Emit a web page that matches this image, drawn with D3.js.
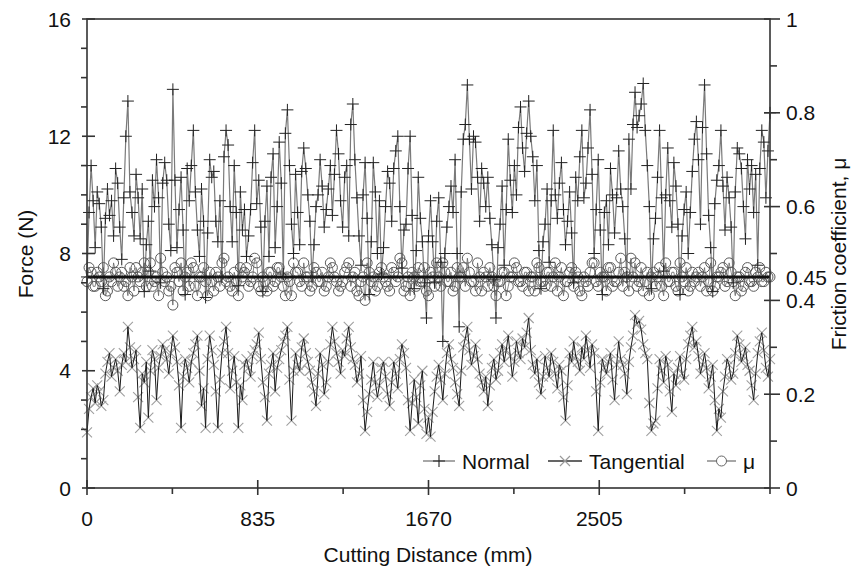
<!DOCTYPE html>
<html><head><meta charset="utf-8">
<script src="https://cdn.jsdelivr.net/npm/d3@7"></script>
<style>body{margin:0;background:#fff}svg{display:block}text{font-family:"Liberation Sans",Arial,sans-serif;fill:#111}</style>
</head><body><svg id="c" width="861" height="570"></svg>
<script>
// ---- data ----
const sampleStep = 10; // mm between samples
const normal = [7.2,9.4,11.0,9.8,8.2,10.1,9.7,8.9,6.8,9.2,
10.2,9.3,9.8,8.6,10.9,10.4,8.9,7.8,9.9,12.0,
13.2,10.1,9.4,8.6,10.7,9.9,8.5,10.2,6.7,8.3,
9.1,7.4,10.5,9.6,11.2,9.9,7.0,10.4,11.1,10.5,
9.0,8.1,13.6,10.5,8.2,9.5,10.6,8.8,6.6,10.9,
9.8,11.0,12.2,10.1,8.8,7.9,10.2,9.1,6.5,8.7,
11.2,10.6,10.8,9.1,8.4,9.8,7.2,11.3,12.2,11.7,
9.6,8.4,11.0,9.4,6.9,10.1,8.8,9.5,7.9,8.6,
9.5,11.1,12.2,9.7,10.5,8.9,6.7,9.1,10.3,7.9,
10.6,11.4,8.2,9.6,11.8,10.4,7.3,12.1,12.9,11.0,
9.0,8.0,10.7,9.4,8.3,10.8,11.6,10.9,10.0,9.1,
7.2,8.3,9.6,10.0,11.2,10.3,8.9,9.5,10.2,11.0,
9.3,10.7,12.2,11.4,9.8,8.9,10.6,11.0,8.6,12.4,
13.1,11.2,9.9,8.6,7.6,10.0,11.1,9.2,6.6,8.4,
11.1,10.1,8.0,9.8,7.3,8.2,9.6,10.8,10.4,9.1,
10.9,11.5,12.0,9.6,7.5,8.8,9.0,10.9,12.0,9.3,
6.8,8.1,10.6,9.2,8.4,7.0,5.8,8.6,9.8,8.4,
7.0,9.1,9.9,7.7,5.0,8.0,8.9,9.6,10.3,9.4,
11.2,8.0,5.5,10.1,11.9,12.4,13.75,11.9,10.2,12.0,
11.8,10.6,9.1,10.9,10.4,9.6,10.6,9.2,8.3,7.1,
5.8,8.2,9.0,10.3,7.6,9.5,11.9,10.5,9.4,11.0,
10.0,12.3,13.0,11.6,10.8,12.1,13.2,12.0,11.3,9.8,
11.0,8.1,6.8,8.4,9.0,10.2,7.7,9.8,12.2,10.0,
9.2,10.4,11.1,9.5,8.3,9.1,10.1,8.7,7.0,10.6,
9.8,11.3,12.2,9.9,10.4,11.6,12.9,10.7,8.0,9.5,
11.2,8.8,6.6,9.4,9.8,8.3,10.9,10.0,8.7,9.9,
11.5,10.2,9.6,8.5,7.2,11.9,10.2,12.4,13.5,12.3,
12.7,13.1,13.8,12.2,11.0,9.6,6.8,8.5,9.2,10.6,
12.2,9.9,7.4,10.0,11.6,9.8,8.9,11.1,10.3,9.0,
6.6,8.6,9.5,10.1,8.0,9.4,10.8,11.9,12.5,11.2,
9.0,12.3,13.75,11.4,9.3,8.2,6.7,9.7,10.5,11.0,
12.2,10.3,8.8,10.6,9.9,8.9,7.0,10.1,11.6,11.4,
10.9,9.6,8.5,11.2,10.2,11.0,9.4,10.7,7.6,10.9,
12.2,11.8,9.9,11.5,12.8];
const tangential = [1.9,2.7,3.1,3.4,2.9,3.5,3.3,2.8,3.0,3.9,
4.3,4.6,3.8,4.1,4.4,4.0,3.3,4.2,4.6,4.3,
5.5,4.8,4.1,4.4,4.7,3.1,2.05,3.9,3.6,4.3,
2.4,4.0,4.7,4.4,3.0,4.1,4.5,4.9,4.7,4.4,
3.9,4.6,5.2,4.8,4.3,3.5,2.05,3.8,4.4,4.1,
3.6,4.3,4.6,4.9,5.2,4.0,2.8,3.4,2.05,4.4,
5.2,4.7,4.2,3.3,2.05,3.7,4.6,5.0,5.5,4.6,
3.4,4.0,4.5,3.6,2.05,3.5,3.0,4.2,4.4,4.1,
3.8,4.5,4.7,4.9,5.3,4.4,3.6,3.1,2.3,3.9,
4.2,4.6,3.3,4.1,4.4,4.7,5.0,5.2,5.5,3.7,
2.3,4.0,4.6,4.2,4.0,4.8,5.1,4.6,4.3,4.0,
3.6,3.3,2.8,3.9,4.6,4.2,3.2,3.6,4.3,4.9,
5.5,5.0,4.6,4.3,3.9,4.7,4.5,5.1,5.5,4.8,
4.4,4.2,3.6,3.9,4.5,3.0,1.95,2.6,3.2,3.7,
4.3,3.6,3.1,3.5,4.1,4.3,3.8,3.2,2.8,3.6,
4.3,3.9,3.4,4.4,4.9,4.6,4.1,3.0,1.95,2.9,
3.7,3.1,2.2,3.5,4.0,2.7,1.85,2.4,1.75,2.6,
3.3,3.8,4.2,3.7,3.0,3.9,4.6,4.9,4.4,4.1,
3.6,3.2,2.8,4.0,4.8,5.1,5.5,4.7,4.2,4.5,
4.9,4.4,3.9,3.6,3.3,3.8,2.8,3.5,4.1,4.4,
3.7,4.0,4.6,4.9,4.3,4.7,5.2,4.5,3.8,4.3,
5.0,4.6,4.4,5.1,4.8,5.3,5.8,4.7,4.2,3.9,
4.4,3.6,3.2,3.8,4.5,4.1,3.8,4.6,4.3,3.9,
3.4,4.2,4.0,3.1,2.3,3.5,4.6,4.3,5.0,4.5,
4.3,4.0,4.8,4.4,5.2,4.7,4.1,4.9,4.6,3.3,
1.95,3.6,4.4,4.1,3.9,4.3,4.6,3.7,3.0,4.2,
5.0,4.4,4.2,3.9,3.2,4.3,4.8,5.2,5.9,5.6,
5.7,5.4,4.9,4.6,4.4,2.9,1.95,2.2,2.3,3.4,
4.4,4.0,3.6,4.5,4.2,3.3,2.6,3.9,3.5,4.1,
4.5,3.9,3.7,4.4,4.9,5.2,5.5,4.8,5.0,4.5,
3.9,4.2,4.6,4.1,3.4,3.8,4.2,3.0,1.95,2.7,
2.4,3.3,3.8,4.4,4.2,3.7,3.9,4.6,5.2,4.9,
4.3,4.5,4.8,4.2,4.0,3.5,3.0,3.9,4.6,5.0,
5.3,4.7,4.1,3.8,4.4];
const mu = [0.44,0.47,0.46,0.43,0.43,0.46,0.45,0.44,0.47,0.41,
0.42,0.45,0.44,0.48,0.46,0.43,0.45,0.46,0.43,0.44,
0.41,0.47,0.45,0.42,0.47,0.45,0.44,0.46,0.48,0.43,
0.46,0.48,0.43,0.44,0.45,0.41,0.49,0.46,0.44,0.45,
0.42,0.43,0.39,0.47,0.46,0.44,0.48,0.42,0.45,0.46,
0.43,0.48,0.47,0.43,0.41,0.45,0.45,0.47,0.44,0.41,
0.46,0.44,0.42,0.46,0.45,0.43,0.48,0.49,0.44,0.45,
0.43,0.42,0.46,0.44,0.41,0.47,0.45,0.46,0.47,0.43,
0.44,0.45,0.49,0.48,0.43,0.42,0.45,0.44,0.42,0.46,
0.46,0.43,0.44,0.47,0.47,0.45,0.43,0.41,0.45,0.44,
0.41,0.48,0.46,0.46,0.44,0.43,0.48,0.45,0.45,0.42,
0.43,0.47,0.46,0.44,0.44,0.46,0.42,0.43,0.45,0.48,
0.47,0.45,0.44,0.42,0.43,0.44,0.46,0.47,0.48,0.43,
0.45,0.46,0.42,0.41,0.44,0.45,0.40,0.48,0.46,0.44,
0.45,0.42,0.43,0.46,0.47,0.45,0.44,0.43,0.42,0.47,
0.46,0.44,0.45,0.49,0.48,0.42,0.43,0.45,0.41,0.46,
0.45,0.43,0.47,0.44,0.44,0.47,0.42,0.41,0.46,0.45,
0.43,0.48,0.45,0.43,0.48,0.46,0.44,0.44,0.46,0.42,
0.43,0.47,0.45,0.45,0.47,0.43,0.49,0.46,0.44,0.44,
0.42,0.48,0.45,0.42,0.46,0.45,0.43,0.47,0.45,0.43,
0.41,0.44,0.44,0.46,0.46,0.41,0.43,0.45,0.45,0.48,
0.47,0.44,0.44,0.43,0.46,0.46,0.42,0.45,0.45,0.42,
0.48,0.47,0.44,0.44,0.43,0.46,0.46,0.43,0.45,0.48,
0.42,0.45,0.47,0.41,0.44,0.44,0.46,0.47,0.43,0.46,
0.45,0.42,0.41,0.45,0.44,0.43,0.46,0.48,0.48,0.44,
0.43,0.46,0.45,0.45,0.42,0.47,0.47,0.43,0.44,0.44,
0.46,0.49,0.43,0.46,0.45,0.42,0.49,0.45,0.48,0.43,
0.44,0.47,0.42,0.44,0.46,0.41,0.45,0.46,0.43,0.45,
0.47,0.43,0.41,0.48,0.44,0.44,0.46,0.46,0.43,0.42,
0.48,0.45,0.44,0.47,0.42,0.43,0.46,0.44,0.45,0.46,
0.43,0.45,0.47,0.42,0.44,0.48,0.42,0.43,0.45,0.45,
0.46,0.47,0.43,0.44,0.48,0.46,0.44,0.41,0.45,0.45,
0.42,0.43,0.46,0.47,0.44,0.44,0.43,0.46,0.45,0.47,
0.44,0.44,0.46,0.45,0.45];
const muMean = 0.45;
const xTicks = [0, 835, 1670, 2505];
const xMinor = [417.5, 1252.5, 2087.5, 2922.5, 3340];
const yLeftTicks = [0, 4, 8, 12, 16];
const yRightTicks = [0, 0.2, 0.4, 0.45, 0.6, 0.8, 1];
const legendItems = ["Normal", "Tangential", "\u03bc"];

// ---- layout ----
const svg = d3.select("#c");
const L = 87, R = 770, T = 19, B = 488;
const x = d3.scaleLinear().domain([0, 3340]).range([L, R]);
const yF = d3.scaleLinear().domain([0, 16]).range([B, T]);
const yM = d3.scaleLinear().domain([0, 1]).range([B, T]);
const dist = i => i * sampleStep;

const g = svg.append("g");
// Normal
g.append("path").datum(normal)
  .attr("d", d3.line().x((d,i)=>x(dist(i))).y(d=>yF(d)))
  .attr("fill","none").attr("stroke","#7a7a7a").attr("stroke-width",1.2);
// mu
g.append("path").datum(mu)
  .attr("d", d3.line().x((d,i)=>x(dist(i))).y(d=>yM(d)))
  .attr("fill","none").attr("stroke","#555").attr("stroke-width",0.7);
g.selectAll("circle.mu").data(mu).join("circle").attr("class","mu")
  .attr("cx",(d,i)=>x(dist(i))).attr("cy",d=>yM(d)).attr("r",5)
  .attr("fill","none").attr("stroke","#5a5a5a").attr("stroke-width",1);
g.append("line").attr("x1",L).attr("x2",R).attr("y1",yM(muMean)).attr("y2",yM(muMean))
  .attr("stroke","#111").attr("stroke-width",3);
// Tangential
const xm = 5;
g.selectAll("path.tx").data(tangential).join("path").attr("class","tx")
  .attr("d",(d,i)=>{const cx=x(dist(i)),cy=yF(d);return `M${cx-xm},${cy-xm}L${cx+xm},${cy+xm}M${cx-xm},${cy+xm}L${cx+xm},${cy-xm}`;})
  .attr("stroke","#a0a0a0").attr("stroke-width",1.1);
g.append("path").datum(tangential)
  .attr("d", d3.line().x((d,i)=>x(dist(i))).y(d=>yF(d)))
  .attr("fill","none").attr("stroke","#1a1a1a").attr("stroke-width",1.0);
const pm = 6;
g.selectAll("path.np").data(normal).join("path").attr("class","np")
  .attr("d",(d,i)=>{const cx=x(dist(i)),cy=yF(d);return `M${cx-pm},${cy}L${cx+pm},${cy}M${cx},${cy-pm}L${cx},${cy+pm}`;})
  .attr("stroke","#222").attr("stroke-width",1);

// ---- axes ----
const ax = svg.append("g").attr("stroke","#333").attr("stroke-width",1.6);
ax.append("rect").attr("x",L).attr("y",T).attr("width",R-L).attr("height",B-T).attr("fill","none");
d3.range(0,17).forEach(v=>{
  const major = v%4===0;
  ax.append("line").attr("x1",major?L-5:L-6).attr("x2",major?L+8:L).attr("y1",yF(v)).attr("y2",yF(v));
});
d3.range(0,11).forEach(k=>{
  const v=k/10; const major=k%2===0;
  ax.append("line").attr("x1",major?R-6:R).attr("x2",major?R+10:R+7).attr("y1",yM(v)).attr("y2",yM(v));
});
xTicks.forEach(v=>ax.append("line").attr("x1",x(v)).attr("x2",x(v)).attr("y1",B-8).attr("y2",B+7));
xMinor.forEach(v=>ax.append("line").attr("x1",x(v)).attr("x2",x(v)).attr("y1",B).attr("y2",B+6));

const fs = 21;
yLeftTicks.forEach(v=>svg.append("text").attr("x",71).attr("y",yF(v)).attr("dy","0.36em").attr("text-anchor","end").attr("font-size",fs).text(v));
yRightTicks.forEach(v=>svg.append("text").attr("x",786).attr("y",yM(v)).attr("dy","0.36em").attr("font-size",fs).text(v));
xTicks.forEach(v=>svg.append("text").attr("x",x(v)).attr("y",526).attr("text-anchor","middle").attr("font-size",fs).text(v));

svg.append("text").attr("transform","translate(33,254) rotate(-90)").attr("text-anchor","middle").attr("font-size",fs).text("Force (N)");
svg.append("text").attr("transform","translate(846,254) rotate(-90)").attr("text-anchor","middle").attr("font-size",fs).text("Friction coefficient, \u03bc");
svg.append("text").attr("x",428).attr("y",562).attr("text-anchor","middle").attr("font-size",fs).text("Cutting Distance (mm)");

// ---- legend ----
const ly = 461;
const lg = svg.append("g");
const legX = [423, 548, 707];
const txtX = [462, 589, 743];
legendItems.forEach((name,k)=>{
  const x0 = legX[k], x1 = txtX[k]-7, cx = (x0+x1)/2;
  lg.append("line").attr("x1",x0).attr("x2",x1).attr("y1",ly).attr("y2",ly).attr("stroke",k===1?"#333":"#777").attr("stroke-width",1.3);
  if(k===0) lg.append("path").attr("d",`M${cx-pm},${ly}L${cx+pm},${ly}M${cx},${ly-pm}L${cx},${ly+pm}`).attr("stroke","#222").attr("stroke-width",1.1);
  if(k===1) lg.append("path").attr("d",`M${cx-xm},${ly-xm}L${cx+xm},${ly+xm}M${cx-xm},${ly+xm}L${cx+xm},${ly-xm}`).attr("stroke","#9a9a9a").attr("stroke-width",1.2);
  if(k===2) lg.append("circle").attr("cx",cx).attr("cy",ly).attr("r",5).attr("fill","#fff").attr("stroke","#666");
  lg.append("text").attr("x",txtX[k]).attr("y",ly).attr("dy","0.36em").attr("font-size",fs).text(name);
});
</script></body></html>
